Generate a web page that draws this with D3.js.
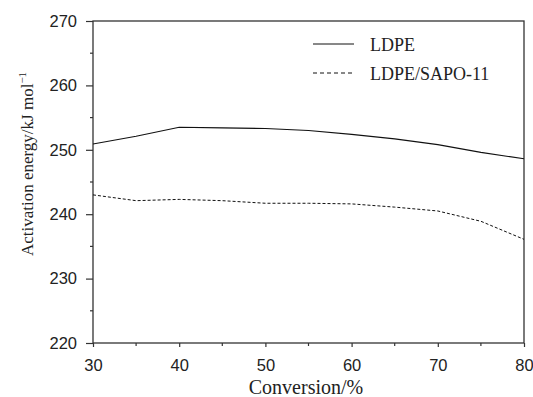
<!DOCTYPE html>
<html>
<head>
<meta charset="utf-8">
<script src="https://cdn.jsdelivr.net/npm/d3@7"></script>
<style>
  body { margin: 0; background: #fff; }
</style>
</head>
<body>
<svg id="chart" width="533" height="397"></svg>
<script>
// values
const conversion = [30, 35, 40, 45, 50, 55, 60, 65, 70, 75, 80];
const ldpe = [250.9, 252.1, 253.5, 253.4, 253.3, 253.0, 252.4, 251.7, 250.8, 249.6, 248.6];
const ldpeSapo = [243.0, 242.1, 242.3, 242.1, 241.7, 241.7, 241.6, 241.1, 240.5, 238.9, 236.1];
const xTicks = [30, 40, 50, 60, 70, 80];
const yTicks = [220, 230, 240, 250, 260, 270];
const seriesNames = ["LDPE", "LDPE/SAPO-11"];

let svg = d3.select("#chart"),
  plotLeft = 93,
  plotTop = 21,
  plotRight = 524,
  plotBottom = 343;

let x = d3.scaleLinear().domain([30, 80]).range([plotLeft, plotRight]);
let y = d3.scaleLinear().domain([220, 270]).range([plotBottom, plotTop]);

const axisColor = "#333";

// frame
svg.append("rect")
  .attr("x", plotLeft)
  .attr("y", plotTop)
  .attr("width", plotRight - plotLeft)
  .attr("height", plotBottom - plotTop)
  .attr("fill", "none")
  .attr("stroke", axisColor)
  .attr("stroke-width", 1.3);

// x axis
let gx = svg.append("g")
  .attr("transform", "translate(0," + plotBottom + ")")
  .call(d3.axisBottom(x).tickValues(xTicks).tickSize(4).tickPadding(12).tickFormat(d3.format("d")));
gx.select(".domain").remove();
gx.selectAll("line").attr("stroke", axisColor).attr("stroke-width", 1.2);
gx.selectAll("text")
  .attr("font-family", "Liberation Sans, Arial, sans-serif")
  .attr("font-size", "16.5px")
  .attr("fill", "#222");

// x minor ticks
svg.append("g")
  .selectAll("line")
  .data(d3.range(35, 80, 10))
  .enter()
  .append("line")
  .attr("x1", (d) => x(d))
  .attr("x2", (d) => x(d))
  .attr("y1", plotBottom)
  .attr("y2", plotBottom + 3)
  .attr("stroke", axisColor)
  .attr("stroke-width", 1.2);

// y axis
let gy = svg.append("g")
  .attr("transform", "translate(" + plotLeft + ",0)")
  .call(d3.axisLeft(y).tickValues(yTicks).tickSize(7).tickPadding(9).tickFormat(d3.format("d")));
gy.select(".domain").remove();
gy.selectAll("line").attr("stroke", axisColor).attr("stroke-width", 1.2);
gy.selectAll("text")
  .attr("font-family", "Liberation Sans, Arial, sans-serif")
  .attr("font-size", "16.5px")
  .attr("fill", "#222");

// y minor ticks
svg.append("g")
  .selectAll("line")
  .data(d3.range(225, 270, 10))
  .enter()
  .append("line")
  .attr("x1", plotLeft - 3)
  .attr("x2", plotLeft)
  .attr("y1", (d) => y(d))
  .attr("y2", (d) => y(d))
  .attr("stroke", axisColor)
  .attr("stroke-width", 1.2);

// lines
let line = d3.line()
  .x((d, i) => x(conversion[i]))
  .y((d) => y(d));

svg.append("path")
  .datum(ldpe)
  .attr("d", line)
  .attr("fill", "none")
  .attr("stroke", "#111")
  .attr("stroke-width", 1.1);

svg.append("path")
  .datum(ldpeSapo)
  .attr("d", line)
  .attr("fill", "none")
  .attr("stroke", "#111")
  .attr("stroke-width", 1)
  .attr("stroke-dasharray", "3,2");

// legend
let legend = svg.append("g");
seriesNames.forEach(function (name, i) {
  let ly = 44 + i * 29;
  legend.append("line")
    .attr("x1", 313)
    .attr("x2", 354)
    .attr("y1", ly)
    .attr("y2", ly)
    .attr("stroke", "#111")
    .attr("stroke-width", 1)
    .attr("stroke-dasharray", i === 0 ? null : "4,3");
  legend.append("text")
    .attr("x", 370)
    .attr("y", ly + 6.5)
    .attr("font-family", "Liberation Serif, Times New Roman, serif")
    .attr("font-size", "18px")
    .attr("fill", "#222")
    .text(name);
});

// axis titles
svg.append("text")
  .attr("x", 306)
  .attr("y", 394)
  .attr("text-anchor", "middle")
  .attr("font-family", "Liberation Serif, Times New Roman, serif")
  .attr("font-size", "20px")
  .attr("fill", "#222")
  .text("Conversion/%");

let yt = svg.append("text")
  .attr("transform", "translate(33," + 164 + ") rotate(-90)")
  .attr("text-anchor", "middle")
  .attr("font-family", "Liberation Serif, Times New Roman, serif")
  .attr("font-size", "17px")
  .attr("fill", "#222");
yt.append("tspan").text("Activation energy/kJ mol");
yt.append("tspan")
  .attr("dy", -7)
  .attr("font-size", "11px")
  .text("\u22121");
</script>
</body>
</html>
